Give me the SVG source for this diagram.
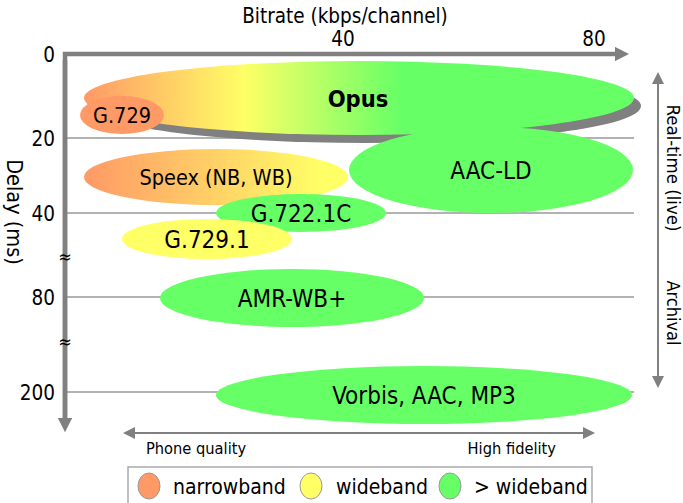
<svg xmlns="http://www.w3.org/2000/svg" width="683" height="503" viewBox="0 0 683 503">
<style>
text{font-family:"DejaVu Sans Condensed","DejaVu Sans","Liberation Sans",sans-serif;font-stretch:condensed;fill:#000}
.ax{stroke:#808080;stroke-width:4.5;fill:none}
.grid{stroke:#999;stroke-width:1.3}
.thin{stroke:#808080;stroke-width:2;fill:none}
.tick{font-size:20.5px}
.lbl{text-anchor:middle}
.g{fill:#66ff66}
.y{fill:#ffff66}
.o{fill:#ff9966}
</style>
<defs>
<marker id="ah" viewBox="0 0 10 10" refX="5" refY="5" markerWidth="3.2" markerHeight="3.2" orient="auto-start-reverse"><path d="M0,0 L10,5 L0,10 z" fill="#808080"/></marker>
<marker id="ah2" viewBox="0 0 10 10" refX="5" refY="5" markerWidth="6" markerHeight="6" orient="auto-start-reverse"><path d="M0,0 L10,5 L0,10 z" fill="#808080"/></marker>
<linearGradient id="opusG" gradientUnits="userSpaceOnUse" x1="84" y1="0" x2="634" y2="0">
<stop offset="0" stop-color="#ff9966"/><stop offset="0.29" stop-color="#ffff66"/><stop offset="0.58" stop-color="#66ff66"/><stop offset="1" stop-color="#66ff66"/>
</linearGradient>
<linearGradient id="speexG" gradientUnits="userSpaceOnUse" x1="84" y1="0" x2="348" y2="0">
<stop offset="0" stop-color="#ff9966"/><stop offset="0.9" stop-color="#ffff66"/>
</linearGradient>
</defs>
<g id="grid">
<line class="grid" x1="66" y1="138" x2="634" y2="138"/>
<line class="grid" x1="66" y1="213" x2="634" y2="213"/>
<line class="grid" x1="66" y1="297" x2="634" y2="297"/>
<line class="grid" x1="66" y1="392" x2="634" y2="392"/>
</g>
<g id="connectors">
<path class="ax" d="M65,425 V54 H622" marker-end="url(#ah)"/>
<path class="ax" d="M65,60 V425" marker-end="url(#ah)"/>
<line class="thin" x1="658" y1="78" x2="658" y2="382" marker-start="url(#ah2)" marker-end="url(#ah2)"/>
<line class="thin" x1="129" y1="433" x2="589" y2="433" marker-start="url(#ah2)" marker-end="url(#ah2)"/>
</g>
<g id="axis-labels">
<text x="345" y="23" font-size="20.5" text-anchor="middle">Bitrate (kbps/channel)</text>
<text class="tick" x="343" y="46" text-anchor="middle">40</text>
<text class="tick" x="594" y="46" text-anchor="middle">80</text>
<text class="tick" x="55" y="62" text-anchor="end">0</text>
<text class="tick" x="55" y="146" text-anchor="end">20</text>
<text class="tick" x="55" y="221" text-anchor="end">40</text>
<text class="tick" x="55" y="305" text-anchor="end">80</text>
<text class="tick" x="55" y="400" text-anchor="end">200</text>
<text x="65" y="263" font-size="18" text-anchor="middle">≈</text>
<text x="65" y="348" font-size="18" text-anchor="middle">≈</text>
<text transform="translate(7,212) rotate(90)" font-size="21.5" text-anchor="middle">Delay (ms)</text>
<text transform="translate(667,168) rotate(90)" font-size="18.5" text-anchor="middle">Real-time (live)</text>
<text transform="translate(667,313) rotate(90)" font-size="18" text-anchor="middle">Archival</text>
<text x="146" y="454" font-size="16.3">Phone quality</text>
<text x="556" y="454" font-size="16.3" text-anchor="end">High fidelity</text>
</g>
<g id="opus">
<ellipse cx="366" cy="106" rx="275" ry="37" fill="#808080"/>
<ellipse cx="359" cy="98" rx="275" ry="37" fill="url(#opusG)"/>
<text x="358" y="107" font-size="23.5" font-weight="bold" text-anchor="middle">Opus</text>
</g>
<g id="g729">
<ellipse class="o" cx="122" cy="115" rx="42" ry="19"/>
<text class="lbl" x="122" y="123" font-size="21.5">G.729</text>
</g>
<g id="speex">
<ellipse cx="216" cy="177" rx="132" ry="28" fill="url(#speexG)"/>
<text class="lbl" x="216" y="185" font-size="21.5">Speex (NB, WB)</text>
</g>
<g id="aacld">
<ellipse class="g" cx="491" cy="170" rx="142" ry="43"/>
<text class="lbl" x="491" y="178.5" font-size="24">AAC-LD</text>
</g>
<g id="g7221c">
<ellipse class="g" cx="301" cy="213" rx="85" ry="19"/>
<text class="lbl" x="301" y="221.5" font-size="24">G.722.1C</text>
</g>
<g id="g7291">
<ellipse class="y" cx="207" cy="239" rx="85" ry="20"/>
<text class="lbl" x="207" y="247.5" font-size="24">G.729.1</text>
</g>
<g id="amrwb">
<ellipse class="g" cx="292" cy="298" rx="132" ry="29"/>
<text class="lbl" x="292" y="306.5" font-size="24">AMR-WB+</text>
</g>
<g id="vorbis">
<ellipse class="g" cx="424" cy="395" rx="208" ry="29"/>
<text class="lbl" x="424" y="403.5" font-size="24">Vorbis, AAC, MP3</text>
</g>
<g id="legend">
<rect x="128" y="467" width="464" height="45" fill="#fff" stroke="#aaa" stroke-width="1.5"/>
<ellipse class="o" cx="149" cy="486" rx="11" ry="13" stroke="#999" stroke-width="1"/>
<text x="173" y="494" font-size="21">narrowband</text>
<ellipse class="y" cx="311" cy="486" rx="11" ry="13" stroke="#999" stroke-width="1"/>
<text x="336" y="494" font-size="21">wideband</text>
<ellipse class="g" cx="450" cy="486" rx="11" ry="13" stroke="#999" stroke-width="1"/>
<text x="474" y="494" font-size="21">&gt; wideband</text>
</g>
</svg>
